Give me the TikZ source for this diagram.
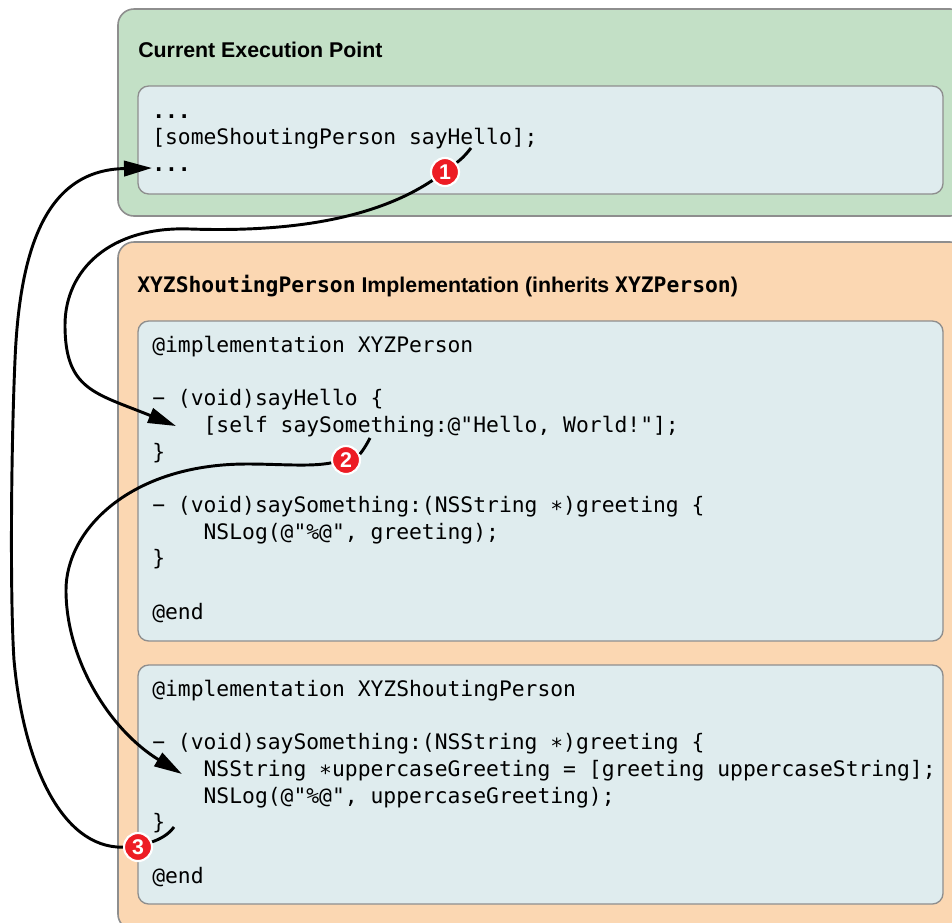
\documentclass[tikz,border=0pt]{standalone}
\usepackage{fontspec}
\setmainfont{Liberation Sans}
\setmonofont{DejaVu Sans Mono}
\usepackage{xcolor}
\usetikzlibrary{arrows.meta}

\definecolor{framegray}{HTML}{8E8E8E}
\definecolor{pointgreen}{HTML}{C3E0C6}
\definecolor{implorange}{HTML}{FBD7B2}
\definecolor{codeblue}{HTML}{DFECEE}
\definecolor{badgered}{HTML}{ED1C24}

\newcommand{\tabin}{\phantom{xxxx}}

\tikzset{
    outerbox/.style={draw=framegray, line width=1.2pt, rounded corners=12pt},
    codebox/.style={draw=framegray, fill=codeblue, line width=1pt, rounded corners=8pt},
    codetext/.style={anchor=north west, inner sep=0pt, align=left, font=\fontsize{16}{20}\selectfont\ttfamily},
    headtext/.style={anchor=base west, inner sep=0pt, font=\fontsize{16}{18}\selectfont\bfseries},
    badge/.style={circle, draw=white, fill=badgered, line width=1.6pt, minimum size=21pt, inner sep=0pt, text=white, font=\fontsize{16}{16}\selectfont\bfseries},
    flowline/.style={black, line width=2.2pt},
    flowarrow/.style={flowline, -{Triangle[length=21pt,width=11.5pt]}}
}

\begin{document}
\begin{tikzpicture}[x=0.75pt,y=-0.75pt]
    \clip (0,0) rectangle (952,922);

    % Outer panels
    \draw[outerbox, fill=pointgreen] (118,9) rectangle (966,216);
    \draw[outerbox, fill=implorange] (118,242) rectangle (966,930);

    % Panel titles
    \node (titlePoint) [headtext] at (138,57) {Current Execution Point};
    \node (titleImpl) [headtext] at (137,292) {{\ttfamily XYZShoutingPerson} Implementation (inherits {\ttfamily XYZPerson})};

    % Code boxes
    \draw[codebox] (138,86) rectangle (943,194);
    \draw[codebox] (138,321) rectangle (943,641);
    \draw[codebox] (138,665) rectangle (943,904);

    % Code
    \node (codePoint) [codetext] at (152,114) {\textbf{...}\\
        {[}someShoutingPerson sayHello];\\
        \textbf{...}};
    \node (codeParent) [codetext] at (152,336) {@implementation XYZPerson\\
        \mbox{}\\
        − (void)sayHello \{\\
        \tabin{[}self saySomething:@"Hello, World!"];\\
        \}\\
        \mbox{}\\
        − (void)saySomething:(NSString ∗)greeting \{\\
        \tabin NSLog(@"\%@", greeting);\\
        \}\\
        \mbox{}\\
        @end};
    \node (codeChild) [codetext] at (152,680) {@implementation XYZShoutingPerson\\
        \mbox{}\\
        − (void)saySomething:(NSString ∗)greeting \{\\
        \tabin NSString ∗uppercaseGreeting = [greeting uppercaseString];\\
        \tabin NSLog(@"\%@", uppercaseGreeting);\\
        \}\\
        \mbox{}\\
        @end};

    % Numbered steps
    \node (stepOne) [badge] at (445,172) {1};
    \node (stepTwo) [badge] at (346,460) {2};
    \node (stepThree) [badge] at (138,847) {3};

    % Connector ends
    \coordinate (fromCall) at (471,148);
    \coordinate (fromSelf) at (370,438);
    \coordinate (fromBrace) at (174,827);
    \coordinate (toParent) at (176,426);
    \coordinate (toChild) at (182,774);
    \coordinate (toReturn) at (152,168);

    % Connectors
    \draw[flowline] (fromCall) .. controls (464,157) and (460,160) .. (stepOne);
    \draw[flowarrow] (stepOne) .. controls (370,222) and (280,232) .. (190,229)
        .. controls (110,226) and (65,270) .. (65,325)
        .. controls (65,390) and (95,393) .. (toParent);
    \draw[flowline] (fromSelf) .. controls (365,448) and (360,454) .. (stepTwo);
    \draw[flowarrow] (stepTwo) .. controls (310,467) and (280,464) .. (247,464)
        .. controls (130,464) and (66,530) .. (66,590)
        .. controls (66,660) and (110,730) .. (toChild);
    \draw[flowline] (fromBrace) .. controls (168,835) and (160,839) .. (stepThree);
    \draw[flowarrow] (stepThree) .. controls (60,848) and (23,760) .. (14,660)
        .. controls (10,600) and (11,450) .. (15,360)
        .. controls (20,240) and (50,170) .. (toReturn);
\end{tikzpicture}
\end{document}
